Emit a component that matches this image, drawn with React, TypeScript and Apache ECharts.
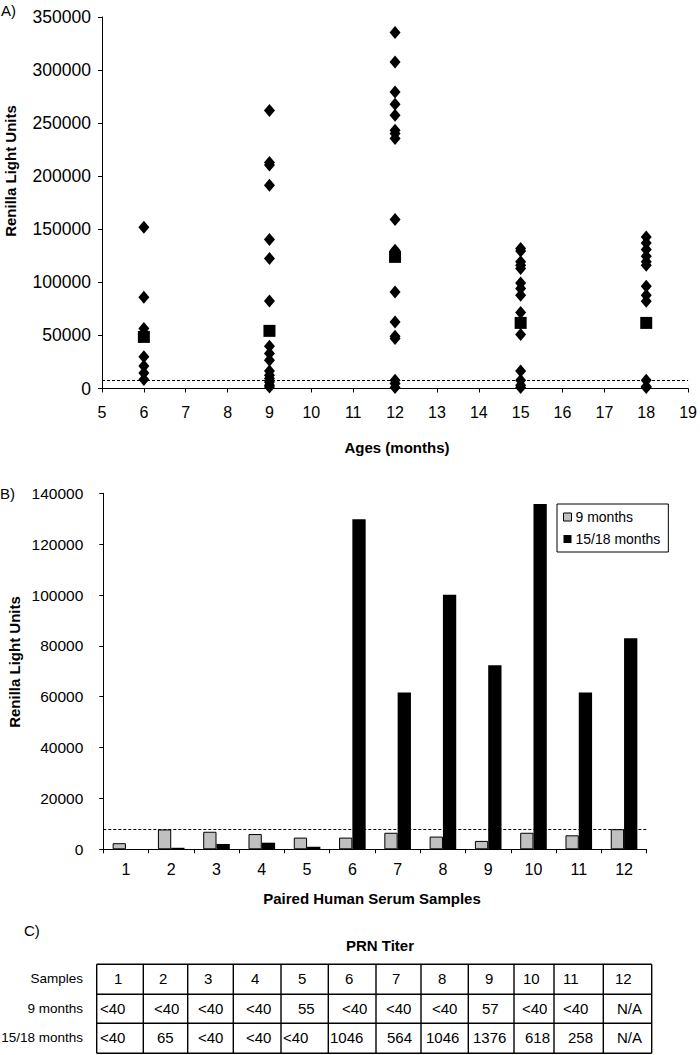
import React, { useEffect, useRef } from "react";
import * as echarts from "echarts";

// ---------- Data: panel A (scatter) ----------
const AGES = [6, 9, 12, 15, 18];
const RLU_AGE6 = [152000, 86000, 56500, 29800, 21300, 14700, 8500];
const RLU_AGE9 = [262000, 213000, 210500, 191500, 140300, 122400, 82500, 39800, 33000, 26700, 16600, 12500, 9400, 6200, 3100, 1500];
const RLU_AGE12 = [335300, 307600, 279400, 267800, 257400, 243300, 240200, 235500, 159200, 130300, 91000, 62700, 49300, 47100, 7800, 4700, 1000];
const RLU_AGE15 = [131900, 129600, 119300, 116100, 113000, 99500, 94200, 87900, 71600, 50900, 16600, 7800, 3100, 1000];
const RLU_AGE18 = [142800, 137100, 130900, 124600, 119300, 116100, 96400, 87900, 82200, 7800, 2000, 1000];
const MEAN_RLU = [48600, 54300, 124000, 61800, 61800];
const THRESHOLD = 7900;

// ---------- Data: panel B (bars) ----------
const SAMPLES = ["1", "2", "3", "4", "5", "6", "7", "8", "9", "10", "11", "12"];
const RLU_9M = [2400, 7800, 6900, 6000, 4600, 4600, 6500, 5000, 3300, 6500, 5500, 7900];
const RLU_1518M = [0, 600, 2100, 2600, 1000, 129800, 61700, 100100, 72400, 135800, 61700, 83000];

// ---------- Data: panel C (table) ----------
const TABLE_ROW_LABELS = ["Samples", "9 months", "15/18 months"];
const PRN_9M = ["<40", "<40", "<40", "<40", "55", "<40", "<40", "<40", "57", "<40", "<40", "N/A"];
const PRN_1518M = ["<40", "65", "<40", "<40", "<40", "1046", "564", "1046", "1376", "618", "258", "N/A"];

// ---------- Layout (positions only) ----------
const FONT = '"Liberation Sans", Arial, sans-serif';
const COL_X = [96.7, 143.3, 187.7, 233.3, 281, 328.3, 376, 421, 468.3, 514, 554, 603.3, 651.7];
const ROW_Y = [964.3, 994.3, 1023.3, 1053.3];
const TEXT_X = [
  [114, 159, 204, 251, 298, 345, 392, 438, 485, 523, 563, 615],
  [100, 154, 198, 246, 298, 342, 386, 432, 482, 522, 563, 617],
  [100, 157, 198, 246, 283, 330, 387, 426, 473, 525, 568, 617],
];

function txt(text: string, x: number, y: number, opts: any = {}) {
  return {
    type: "text",
    x,
    y,
    rotation: opts.rotation || 0,
    silent: true,
    style: {
      text,
      fill: "#000",
      fontSize: opts.size || 15,
      fontFamily: FONT,
      fontWeight: opts.bold ? "bold" : "normal",
      align: opts.align || "left",
      verticalAlign: "middle",
    },
  };
}

const plain = (v: number) => String(v);

export default function App() {
  const ref = useRef<HTMLDivElement>(null);

  useEffect(() => {
    if (!ref.current) return;
    const chart = echarts.init(ref.current, undefined, { renderer: "svg" });

    const groups = [RLU_AGE6, RLU_AGE9, RLU_AGE12, RLU_AGE15, RLU_AGE18];
    const indiv: number[][] = [];
    groups.forEach((g, i) => g.forEach((v) => indiv.push([AGES[i], v])));
    const means = AGES.map((a, i) => [a, MEAN_RLU[i]]);

    const graphics: any[] = [];
    graphics.push(txt("A)", 1, 10, { size: 15 }));
    graphics.push(txt("B)", 0, 493, { size: 15 }));
    graphics.push(txt("C)", 24, 930, { size: 15 }));
    graphics.push(txt("Renilla Light Units", 10, 171, { bold: true, align: "center", rotation: Math.PI / 2 }));
    graphics.push(txt("Renilla Light Units", 14, 662, { bold: true, align: "center", rotation: Math.PI / 2 }));
    graphics.push(txt("Ages (months)", 397, 447, { bold: true, align: "center" }));
    graphics.push(txt("Paired Human Serum Samples", 372, 898, { bold: true, align: "center" }));
    graphics.push(txt("PRN Titer", 380, 945, { bold: true, align: "center" }));

    // table grid
    COL_X.forEach((x) => {
      graphics.push({
        type: "line",
        silent: true,
        shape: { x1: x, y1: ROW_Y[0], x2: x, y2: ROW_Y[ROW_Y.length - 1] },
        style: { stroke: "#000", lineWidth: 1.4 },
      });
    });
    ROW_Y.forEach((y) => {
      graphics.push({
        type: "line",
        silent: true,
        shape: { x1: COL_X[0], y1: y, x2: COL_X[COL_X.length - 1], y2: y },
        style: { stroke: "#000", lineWidth: 1.4 },
      });
    });
    const rows = [SAMPLES, PRN_9M, PRN_1518M];
    rows.forEach((row, r) => {
      const cy = (ROW_Y[r] + ROW_Y[r + 1]) / 2 - 0.5;
      graphics.push(txt(TABLE_ROW_LABELS[r], 83, cy, { align: "right", size: 13.5 }));
      row.forEach((v, c) => graphics.push(txt(v, TEXT_X[r][c], cy, { size: 15 })));
    });

    const axisLine = { show: true, lineStyle: { color: "#000", width: 1 } };
    const axisTick = { show: true, inside: false, length: 4, lineStyle: { color: "#000", width: 1 } };
    const dashed = {
      silent: true,
      symbol: "none",
      label: { show: false },
      lineStyle: { type: [3, 2], color: "#000", width: 1 },
      data: [{ yAxis: THRESHOLD }],
    };

    chart.setOption({
      animation: false,
      backgroundColor: "#fff",
      textStyle: { fontFamily: FONT },
      grid: [
        { left: 102, top: 17, width: 590, height: 371.5 },
        { left: 103.3, top: 493.3, width: 543.4, height: 356 },
      ],
      xAxis: [
        {
          gridIndex: 0,
          type: "value",
          min: 5,
          max: 19,
          interval: 1,
          axisLine,
          axisTick,
          splitLine: { show: false },
          axisLabel: { color: "#000", fontSize: 16, margin: 16, fontFamily: FONT, formatter: plain },
        },
        {
          gridIndex: 1,
          type: "category",
          data: SAMPLES,
          axisLine,
          axisTick,
          splitLine: { show: false },
          axisLabel: { color: "#000", fontSize: 16, margin: 12, fontFamily: FONT },
        },
      ],
      yAxis: [
        {
          gridIndex: 0,
          type: "value",
          min: 0,
          max: 350000,
          interval: 50000,
          axisLine,
          axisTick,
          splitLine: { show: false },
          axisLabel: { color: "#000", fontSize: 17.5, margin: 11, fontFamily: FONT, formatter: plain },
        },
        {
          gridIndex: 1,
          type: "value",
          min: 0,
          max: 140000,
          interval: 20000,
          axisLine,
          axisTick,
          splitLine: { show: false },
          axisLabel: { color: "#000", fontSize: 15.5, margin: 20, fontFamily: FONT, formatter: plain },
        },
      ],
      legend: {
        left: 557,
        top: 504,
        orient: "vertical",
        borderColor: "#000",
        borderWidth: 1,
        padding: [6, 8, 6, 6],
        itemWidth: 8,
        itemHeight: 8,
        itemGap: 8,
        icon: "rect",
        textStyle: { color: "#000", fontSize: 14, fontFamily: FONT, padding: [0, 0, 0, -1] },
        data: [
          { name: "9 months", itemStyle: { color: "#c0c0c0", borderColor: "#000", borderWidth: 1 } },
          { name: "15/18 months", itemStyle: { color: "#000" } },
        ],
      },
      series: [
        {
          name: "individual",
          type: "scatter",
          xAxisIndex: 0,
          yAxisIndex: 0,
          symbol: "diamond",
          symbolSize: [11, 13],
          itemStyle: { color: "#000", opacity: 1 },
          data: indiv,
          markLine: dashed,
        },
        {
          name: "mean",
          type: "scatter",
          xAxisIndex: 0,
          yAxisIndex: 0,
          symbol: "rect",
          symbolSize: 12,
          itemStyle: { color: "#000", opacity: 1 },
          data: means,
        },
        {
          name: "9 months",
          type: "bar",
          xAxisIndex: 1,
          yAxisIndex: 1,
          barWidth: 13.3,
          barGap: "0%",
          itemStyle: { color: "#c0c0c0", borderColor: "#000", borderWidth: 1 },
          data: RLU_9M,
          markLine: dashed,
        },
        {
          name: "15/18 months",
          type: "bar",
          xAxisIndex: 1,
          yAxisIndex: 1,
          barWidth: 13.3,
          barGap: "0%",
          itemStyle: { color: "#000" },
          data: RLU_1518M,
        },
      ],
      graphic: graphics,
    });

    return () => chart.dispose();
  }, []);

  return (
    <div
      ref={ref}
      style={{ position: "absolute", left: 0, top: 0, width: 700, height: 1055, background: "#fff" }}
    />
  );
}
